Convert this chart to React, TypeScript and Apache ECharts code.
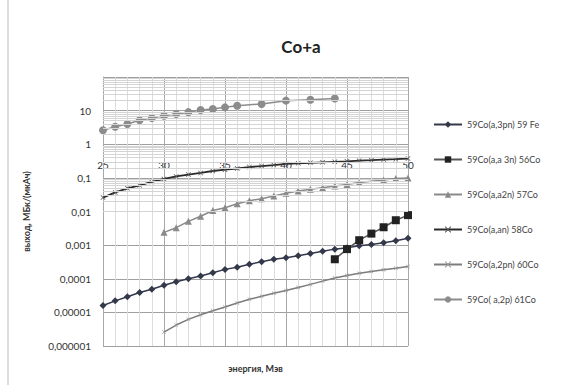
import React, { useEffect, useRef } from "react";
import * as echarts from "echarts";

const titleText = "Co+a";
const xAxisName = "энергия, Мэв";
const yAxisName = "выход, МБк/(мкАч)";

const s1Name = "59Co(a,3pn) 59 Fe";
const s1X = [25, 26, 27, 28, 29, 30, 31, 32, 33, 34, 35, 36, 37, 38, 39, 40, 41, 42, 43, 44, 45, 46, 47, 48, 49, 50];
const s1Y = [1.6e-5, 2.2e-5, 2.9e-5, 3.9e-5, 4.9e-5, 6.4e-5, 8.1e-5, 1.0e-4, 1.2e-4, 1.5e-4, 1.9e-4, 2.2e-4, 2.7e-4, 3.2e-4, 3.8e-4, 4.2e-4, 4.8e-4, 5.6e-4, 6.6e-4, 7.6e-4, 8.3e-4, 9.6e-4, 1.05e-3, 1.18e-3, 1.35e-3, 1.6e-3];

const s2Name = "59Co(a,a 3n) 56Co";
const s2X = [44, 45, 46, 47, 48, 49, 50];
const s2Y = [3.8e-4, 7.6e-4, 1.4e-3, 2.2e-3, 3.4e-3, 5.5e-3, 7.8e-3];

const s3Name = "59Co(a,a2n) 57Co";
const s3X = [30, 31, 32, 33, 34, 35, 36, 37, 38, 39, 40, 41, 42, 43, 44, 45, 46, 48, 49, 50];
const s3Y = [2.4e-3, 3.3e-3, 5.1e-3, 7.2e-3, 0.0107, 0.013, 0.017, 0.021, 0.024, 0.029, 0.035, 0.041, 0.046, 0.051, 0.057, 0.064, 0.073, 0.087, 0.096, 0.1];

const s4Name = "59Co(a,an) 58Co";
const s4X = [25, 26, 27, 28, 29, 30, 31, 32, 33, 34, 35, 36, 37, 38, 39, 40, 41, 42, 43, 44, 45, 46, 47, 48, 49, 50];
const s4Y = [0.026, 0.037, 0.049, 0.06, 0.076, 0.093, 0.11, 0.125, 0.14, 0.16, 0.175, 0.19, 0.21, 0.225, 0.24, 0.26, 0.27, 0.28, 0.29, 0.3, 0.31, 0.325, 0.335, 0.35, 0.36, 0.375];

const s5Name = "59Co(a,2pn) 60Co";
const s5X = [30, 31, 32, 33, 34, 35, 36, 37, 38, 39, 40, 41, 42, 43, 44, 45, 46, 47, 48, 49, 50];
const s5Y = [2.6e-6, 4.2e-6, 6.2e-6, 8.5e-6, 1.12e-5, 1.45e-5, 1.9e-5, 2.45e-5, 3.0e-5, 3.7e-5, 4.5e-5, 5.5e-5, 6.8e-5, 8.5e-5, 1.05e-4, 1.25e-4, 1.45e-4, 1.65e-4, 1.85e-4, 2.05e-4, 2.3e-4];

const s6Name = "59Co( a,2p) 61Co";
const s6X = [25, 26, 27, 28, 29, 30, 31, 32, 33, 34, 35, 36, 38, 40, 42, 44];
const s6Y = [2.6, 3.3, 4.0, 5.2, 6.0, 7.0, 7.9, 9.0, 10.4, 11.2, 12.5, 14, 15.8, 19.8, 21, 23];

const decadeExponents = [-6, -5, -4, -3, -2, -1, 0, 1];
const minorMultipliers = [2, 3, 4, 5, 6, 7, 8, 9];

const pairs = (xs: number[], ys: number[]) => xs.map((x, i) => [x, ys[i]]);

const crossPath = "path://M0,1L1,0L5,4L9,0L10,1L6,5L10,9L9,10L5,6L1,10L0,9L4,5Z";

const fontFamily = "Lato, 'Liberation Sans', sans-serif";

export default function App() {
  const ref = useRef<HTMLDivElement>(null);
  useEffect(() => {
    document.body.style.margin = "0";
    if (!ref.current) return;
    const chart = echarts.init(ref.current, undefined, { renderer: "svg" });

    const minorLines: any[] = [];
    decadeExponents.forEach((e) => {
      minorMultipliers.forEach((m) => {
        const v = m * Math.pow(10, e);
        if (v < 100) minorLines.push({ yAxis: v });
      });
    });

    const fmt = (v: number) => {
      if (v >= 1) return String(Math.round(v));
      const d = Math.round(-Math.log10(v));
      return v.toFixed(d).replace(".", ",");
    };

    chart.setOption({
      animation: false,
      backgroundColor: "#ffffff",
      textStyle: { fontFamily },
      title: {
        text: titleText,
        left: 296,
        top: 33,
        textAlign: "center",
        textStyle: { fontSize: 17, fontWeight: "bold", color: "#222", fontFamily },
      },
      graphic: [
        {
          type: "rect",
          shape: { x: 8, y: -4, width: 570, height: 395 },
          style: { fill: "none", stroke: "#bbbbbb", lineWidth: 1 },
          silent: true,
        },
      ],
      legend: {
        orient: "vertical",
        left: 428,
        top: 115,
        itemGap: 26,
        itemWidth: 28,
        itemHeight: 8,
        data: [s1Name, s2Name, s3Name, s4Name, s5Name, s6Name],
        textStyle: { fontSize: 9, color: "#444", fontFamily },
      },
      grid: { left: 103, right: 159, top: 77, bottom: 39, containLabel: false },
      xAxis: {
        type: "value",
        min: 25,
        max: 50,
        interval: 5,
        name: xAxisName,
        nameLocation: "middle",
        nameGap: 18,
        nameTextStyle: { fontSize: 9, fontWeight: "bold", color: "#333", fontFamily },
        axisLine: { show: false },
        axisTick: { show: false },
        axisLabel: { margin: -186, fontSize: 10, color: "#333", fontFamily },
        splitLine: { show: true, lineStyle: { color: "#a8a8a8", width: 1 } },
        minorTick: { show: false, splitNumber: 5 },
        minorSplitLine: { show: true, lineStyle: { color: "#dcdcdc", width: 1 } },
      },
      yAxis: {
        type: "log",
        logBase: 10,
        min: 1e-6,
        max: 100,
        interval: 1,
        name: yAxisName,
        nameLocation: "middle",
        nameGap: 72,
        nameRotate: 90,
        nameTextStyle: { fontSize: 9, fontWeight: "bold", color: "#333", fontFamily },
        axisLine: { show: true, lineStyle: { color: "#a8a8a8" } },
        axisTick: { show: false },
        axisLabel: {
          fontSize: 10,
          color: "#333",
          margin: 12,
          showMaxLabel: false,
          formatter: (v: number) => fmt(v),
          fontFamily,
        },
        splitLine: { show: true, lineStyle: { color: "#a0a0a0", width: 1 } },
      },
      series: [
        {
          name: "grid-minor",
          type: "line",
          data: [],
          z: 1,
          silent: true,
          markLine: {
            silent: true,
            symbol: ["none", "none"],
            label: { show: false },
            lineStyle: { color: "#d4d4d4", width: 1, type: "solid" },
            data: minorLines,
            animation: false,
          },
        },
        {
          name: s1Name,
          type: "line",
          data: pairs(s1X, s1Y),
          z: 3,
          symbol: "diamond",
          symbolSize: 7,
          color: "#33384a",
          lineStyle: { width: 1.5, color: "#33384a" },
          itemStyle: { color: "#33384a" },
        },
        {
          name: s2Name,
          type: "line",
          data: pairs(s2X, s2Y),
          z: 3,
          symbol: "rect",
          symbolSize: 8,
          color: "#222222",
          lineStyle: { width: 1.5, color: "#555555" },
          itemStyle: { color: "#222222" },
        },
        {
          name: s3Name,
          type: "line",
          data: pairs(s3X, s3Y),
          z: 3,
          symbol: "triangle",
          symbolSize: 7,
          color: "#8a8a8a",
          lineStyle: { width: 1.5, color: "#8a8a8a" },
          itemStyle: { color: "#8a8a8a" },
        },
        {
          name: s4Name,
          type: "line",
          data: pairs(s4X, s4Y),
          z: 3,
          symbol: crossPath,
          symbolSize: 5,
          color: "#2a2a2a",
          lineStyle: { width: 1.8, color: "#2a2a2a" },
          itemStyle: { color: "#555555" },
        },
        {
          name: s5Name,
          type: "line",
          data: pairs(s5X, s5Y),
          z: 3,
          symbol: crossPath,
          symbolSize: 4,
          color: "#7c7c7c",
          lineStyle: { width: 1.5, color: "#7c7c7c" },
          itemStyle: { color: "#999999" },
        },
        {
          name: s6Name,
          type: "line",
          data: pairs(s6X, s6Y),
          z: 3,
          symbol: "circle",
          symbolSize: 8,
          color: "#8c8c8c",
          lineStyle: { width: 1.5, color: "#8c8c8c" },
          itemStyle: { color: "#8c8c8c" },
        },
      ],
    });
    return () => chart.dispose();
  }, []);
  return <div ref={ref} style={{ width: 567, height: 385 }} />;
}
